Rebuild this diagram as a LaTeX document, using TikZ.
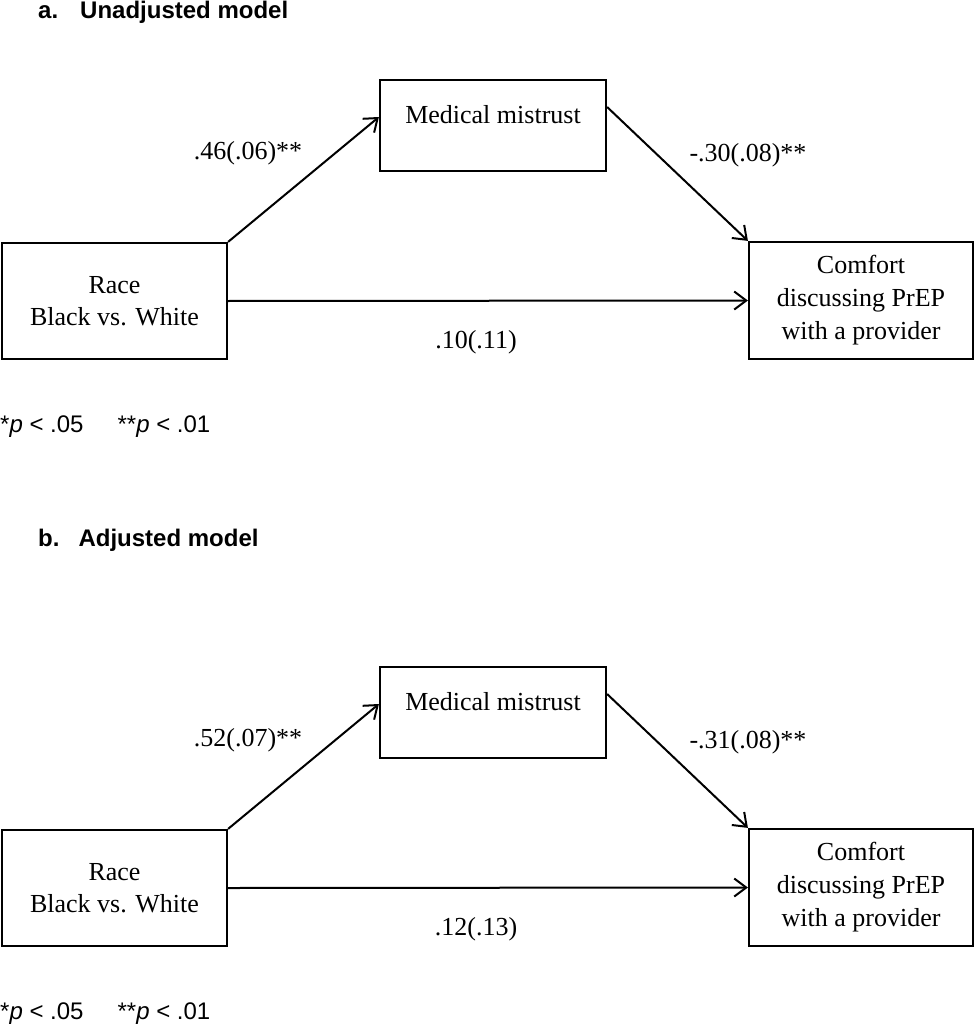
\documentclass[tikz,border=0pt]{standalone}
\usepackage{fontspec}
\setmainfont{Liberation Serif}
\newfontfamily\arialfont{Liberation Sans}
\usetikzlibrary{arrows.meta,calc}
\tikzset{
  box/.style={draw, line width=2.2pt, inner sep=0pt, align=center,
    font=\fontsize{26}{33}\selectfont},
  racebox/.style={box, minimum width=225pt, minimum height=116pt, font=\fontsize{26}{32}\selectfont},
  mistbox/.style={box, minimum width=226pt, minimum height=91pt, text height=18pt, text depth=22pt},
  outbox/.style={box, minimum width=224pt, minimum height=117pt},
  path/.style={draw, line width=2pt, -{Straight Barb[length=12pt,width=18pt,line width=2pt]}},
  coef/.style={font=\fontsize{26}{30}\selectfont, inner sep=0pt},
  paneltitle/.style={font=\arialfont\bfseries\fontsize{24}{28}\selectfont, anchor=base west, inner sep=0pt},
  signote/.style={font=\arialfont\fontsize{24}{28}\selectfont, anchor=base west, inner sep=0pt}
}
\begin{document}
\begin{tikzpicture}[x=1pt,y=-1pt]
\useasboundingbox (0,0) rectangle (974,1024);
% ---------- panel a ----------
\node[paneltitle] (ta) at (38,19) {a.\hspace{22pt}Unadjusted model};
\node[mistbox] (amis) at (493,125.5) {Medical mistrust};
\node[racebox] (arace) at (114.5,301) {Race\\Black vs. White};
\node[outbox] (aout) at (861,300.5) {Comfort\\discussing PrEP\\with a provider};
\draw[path] (arace.north east) -- ([yshift=8.5pt]amis.west);
\draw[path] ([yshift=18.5pt]amis.east) -- (aout.north west);
\draw[path] (arace.east) -- (aout.west);
\node[coef] (ac1) at (248,153) {.46(.06)**};
\node[coef] (ac2) at (748,155) {-.30(.08)**};
\node[coef] (ac3) at (476,342) {.10(.11)};
\node[signote] (na) at (0,432) {*\textit{p} < .05\hspace{34pt}**\textit{p} < .01};
% ---------- panel b ----------
\node[paneltitle] (tb) at (38,546) {b.\hspace{19pt}Adjusted model};
\begin{scope}[yshift=-587pt]
\node[mistbox] (bmis) at (493,125.5) {Medical mistrust};
\node[racebox] (brace) at (114.5,301) {Race\\Black vs. White};
\node[outbox] (bout) at (861,300.5) {Comfort\\discussing PrEP\\with a provider};
\draw[path] (brace.north east) -- ([yshift=8.5pt]bmis.west);
\draw[path] ([yshift=18.5pt]bmis.east) -- (bout.north west);
\draw[path] (brace.east) -- (bout.west);
\node[coef] (bc1) at (248,153) {.52(.07)**};
\node[coef] (bc2) at (748,155) {-.31(.08)**};
\node[coef] (bc3) at (476,342) {.12(.13)};
\node[signote] (nb) at (0,432) {*\textit{p} < .05\hspace{34pt}**\textit{p} < .01};
\end{scope}
\end{tikzpicture}
\end{document}
